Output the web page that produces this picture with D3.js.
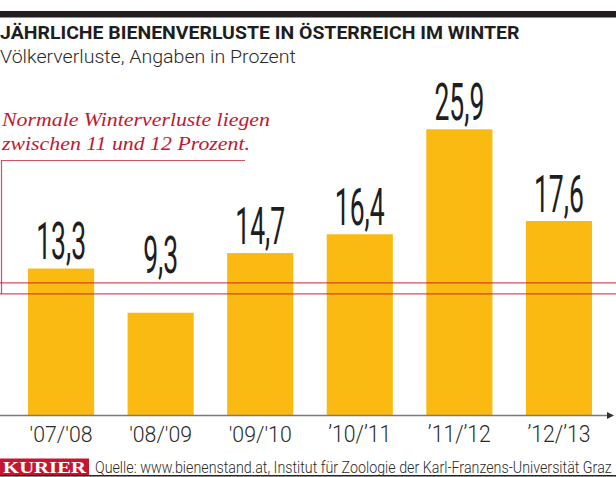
<!DOCTYPE html>
<html><head><meta charset="utf-8">
<script src="https://cdn.jsdelivr.net/npm/d3@7"></script>
<style>body{margin:0;background:#fff}svg{display:block}</style>
</head><body>
<svg id="c" width="616" height="477"></svg>
<script>
const categories = ["'07/'08", "'08/'09", "'09/'10", "’10/’11", "’11/’12", "’12/’13"];
const values = [13.3, 9.3, 14.7, 16.4, 25.9, 17.6];
const normalRange = [11, 12];
const title = "JÄHRLICHE BIENENVERLUSTE IN ÖSTERREICH IM WINTER";
const subtitle = "Völkerverluste, Angaben in Prozent";
const note = ["Normale Winterverluste liegen", "zwischen 11 und 12 Prozent."];
const brand = "KURIER";
const source = "Quelle: www.bienenstand.at, Institut für Zoologie der Karl-Franzens-Universität Graz";

const W = 616, H = 477;
const svg = d3.select("#c");
const RED = "#c4162f", YEL = "#fbba12", INK = "#1e1e1e";

const x = d3.scaleBand().domain(categories).range([11.3, 608.7]).paddingInner(0.336).paddingOuter(0.168);
const y = d3.scaleLinear().domain([0, 37.6]).range([415.5, 0]);

// horizontally squeeze a text (placed at x0,y0) to a target width
function fitAt(sel, x0, y0, w) {
  sel.attr("x", 0).attr("y", 0);
  const len = sel.node().getComputedTextLength();
  return sel.attr("transform", `translate(${x0},${y0}) scale(${w / len},1)`);
}

// top rule
svg.append("rect").attr("x", 0).attr("y", 11).attr("width", W).attr("height", 6.5).attr("fill", "#231f20");

// title & subtitle
fitAt(svg.append("text").text(title)
  .attr("font-family", "Roboto, sans-serif").attr("font-weight", 700).attr("font-size", 18.8).attr("fill", INK), 0, 38.5, 519);
fitAt(svg.append("text").text(subtitle)
  .attr("font-family", "Roboto, sans-serif").attr("font-weight", 300).attr("font-size", 18.5).attr("fill", "#2a2a2a"), 0, 63.3, 296);

// annotation
note.forEach((t, i) => {
  const s = svg.append("text").text(t)
    .attr("font-family", "'Liberation Serif', 'DejaVu Serif', serif").attr("font-style", "italic")
    .attr("font-size", 18).attr("fill", RED);
  fitAt(s, 2, 126 + i * 24, i === 0 ? 268 : 248);
});

// bars
svg.append("g").selectAll("rect").data(values).join("rect")
  .attr("x", (d, i) => x(categories[i]))
  .attr("y", d => y(d))
  .attr("width", x.bandwidth())
  .attr("height", d => y(0) - y(d))
  .attr("fill", YEL);

// normal range lines + bracket
const g = svg.append("g").attr("stroke", RED).attr("stroke-opacity", 0.75).attr("fill", "none").attr("stroke-width", 1.2);
normalRange.forEach(v => g.append("line").attr("x1", 0).attr("x2", W).attr("y1", y(v)).attr("y2", y(v)));
g.append("path").attr("d", `M245,160.5 H1.5 V${y(normalRange[0])}`);

// value labels
const fmt = d3.format(".1f");
svg.append("g").selectAll("text").data(values).join("text")
  .text(d => fmt(d).replace(".", ","))
  .attr("text-anchor", "middle")
  .attr("font-family", "Roboto, sans-serif").attr("font-weight", 400).attr("font-size", 51)
  .attr("fill", INK)
  .attr("transform", (d, i) => `translate(${x(categories[i]) + x.bandwidth() / 2},${Math.min(y(d), y(normalRange[1])) - 9.5}) scale(0.52,1)`);

// x axis
svg.append("line").attr("x1", 0).attr("x2", 609).attr("y1", 415.5).attr("y2", 415.5).attr("stroke", "#7a7a7a").attr("stroke-width", 1.5);
svg.append("path").attr("d", "M607,412 L614,415.5 L607,419 Z").attr("fill", "#333");
const ax = svg.append("g").attr("transform", "translate(0,415.5)").call(d3.axisBottom(x).tickSize(0).tickPadding(0));
ax.select(".domain").remove();
ax.selectAll("text").attr("dy", 0)
  .attr("font-family", "Roboto, sans-serif").attr("font-weight", 300).attr("font-size", 23).attr("fill", "#2a2a2a")
  .each(function () { fitAt(d3.select(this), 0, 26, 63); });

// footer
svg.append("rect").attr("x", 0).attr("y", 458.5).attr("width", 89).attr("height", 16.5).attr("fill", RED);
fitAt(svg.append("text").text(brand)
  .attr("font-family", "'Liberation Serif', serif").attr("font-weight", 700).attr("font-size", 17.5).attr("fill", "#fff"), 3, 473, 83);
fitAt(svg.append("text").text(source)
  .attr("font-family", "Roboto, sans-serif").attr("font-weight", 300).attr("font-size", 17).attr("fill", "#2a2a2a"), 95, 472.7, 517);
svg.append("line").attr("x1", 0).attr("x2", W).attr("y1", 475.8).attr("y2", 475.8).attr("stroke", "#222").attr("stroke-width", 1.5);
</script>
</body></html>
